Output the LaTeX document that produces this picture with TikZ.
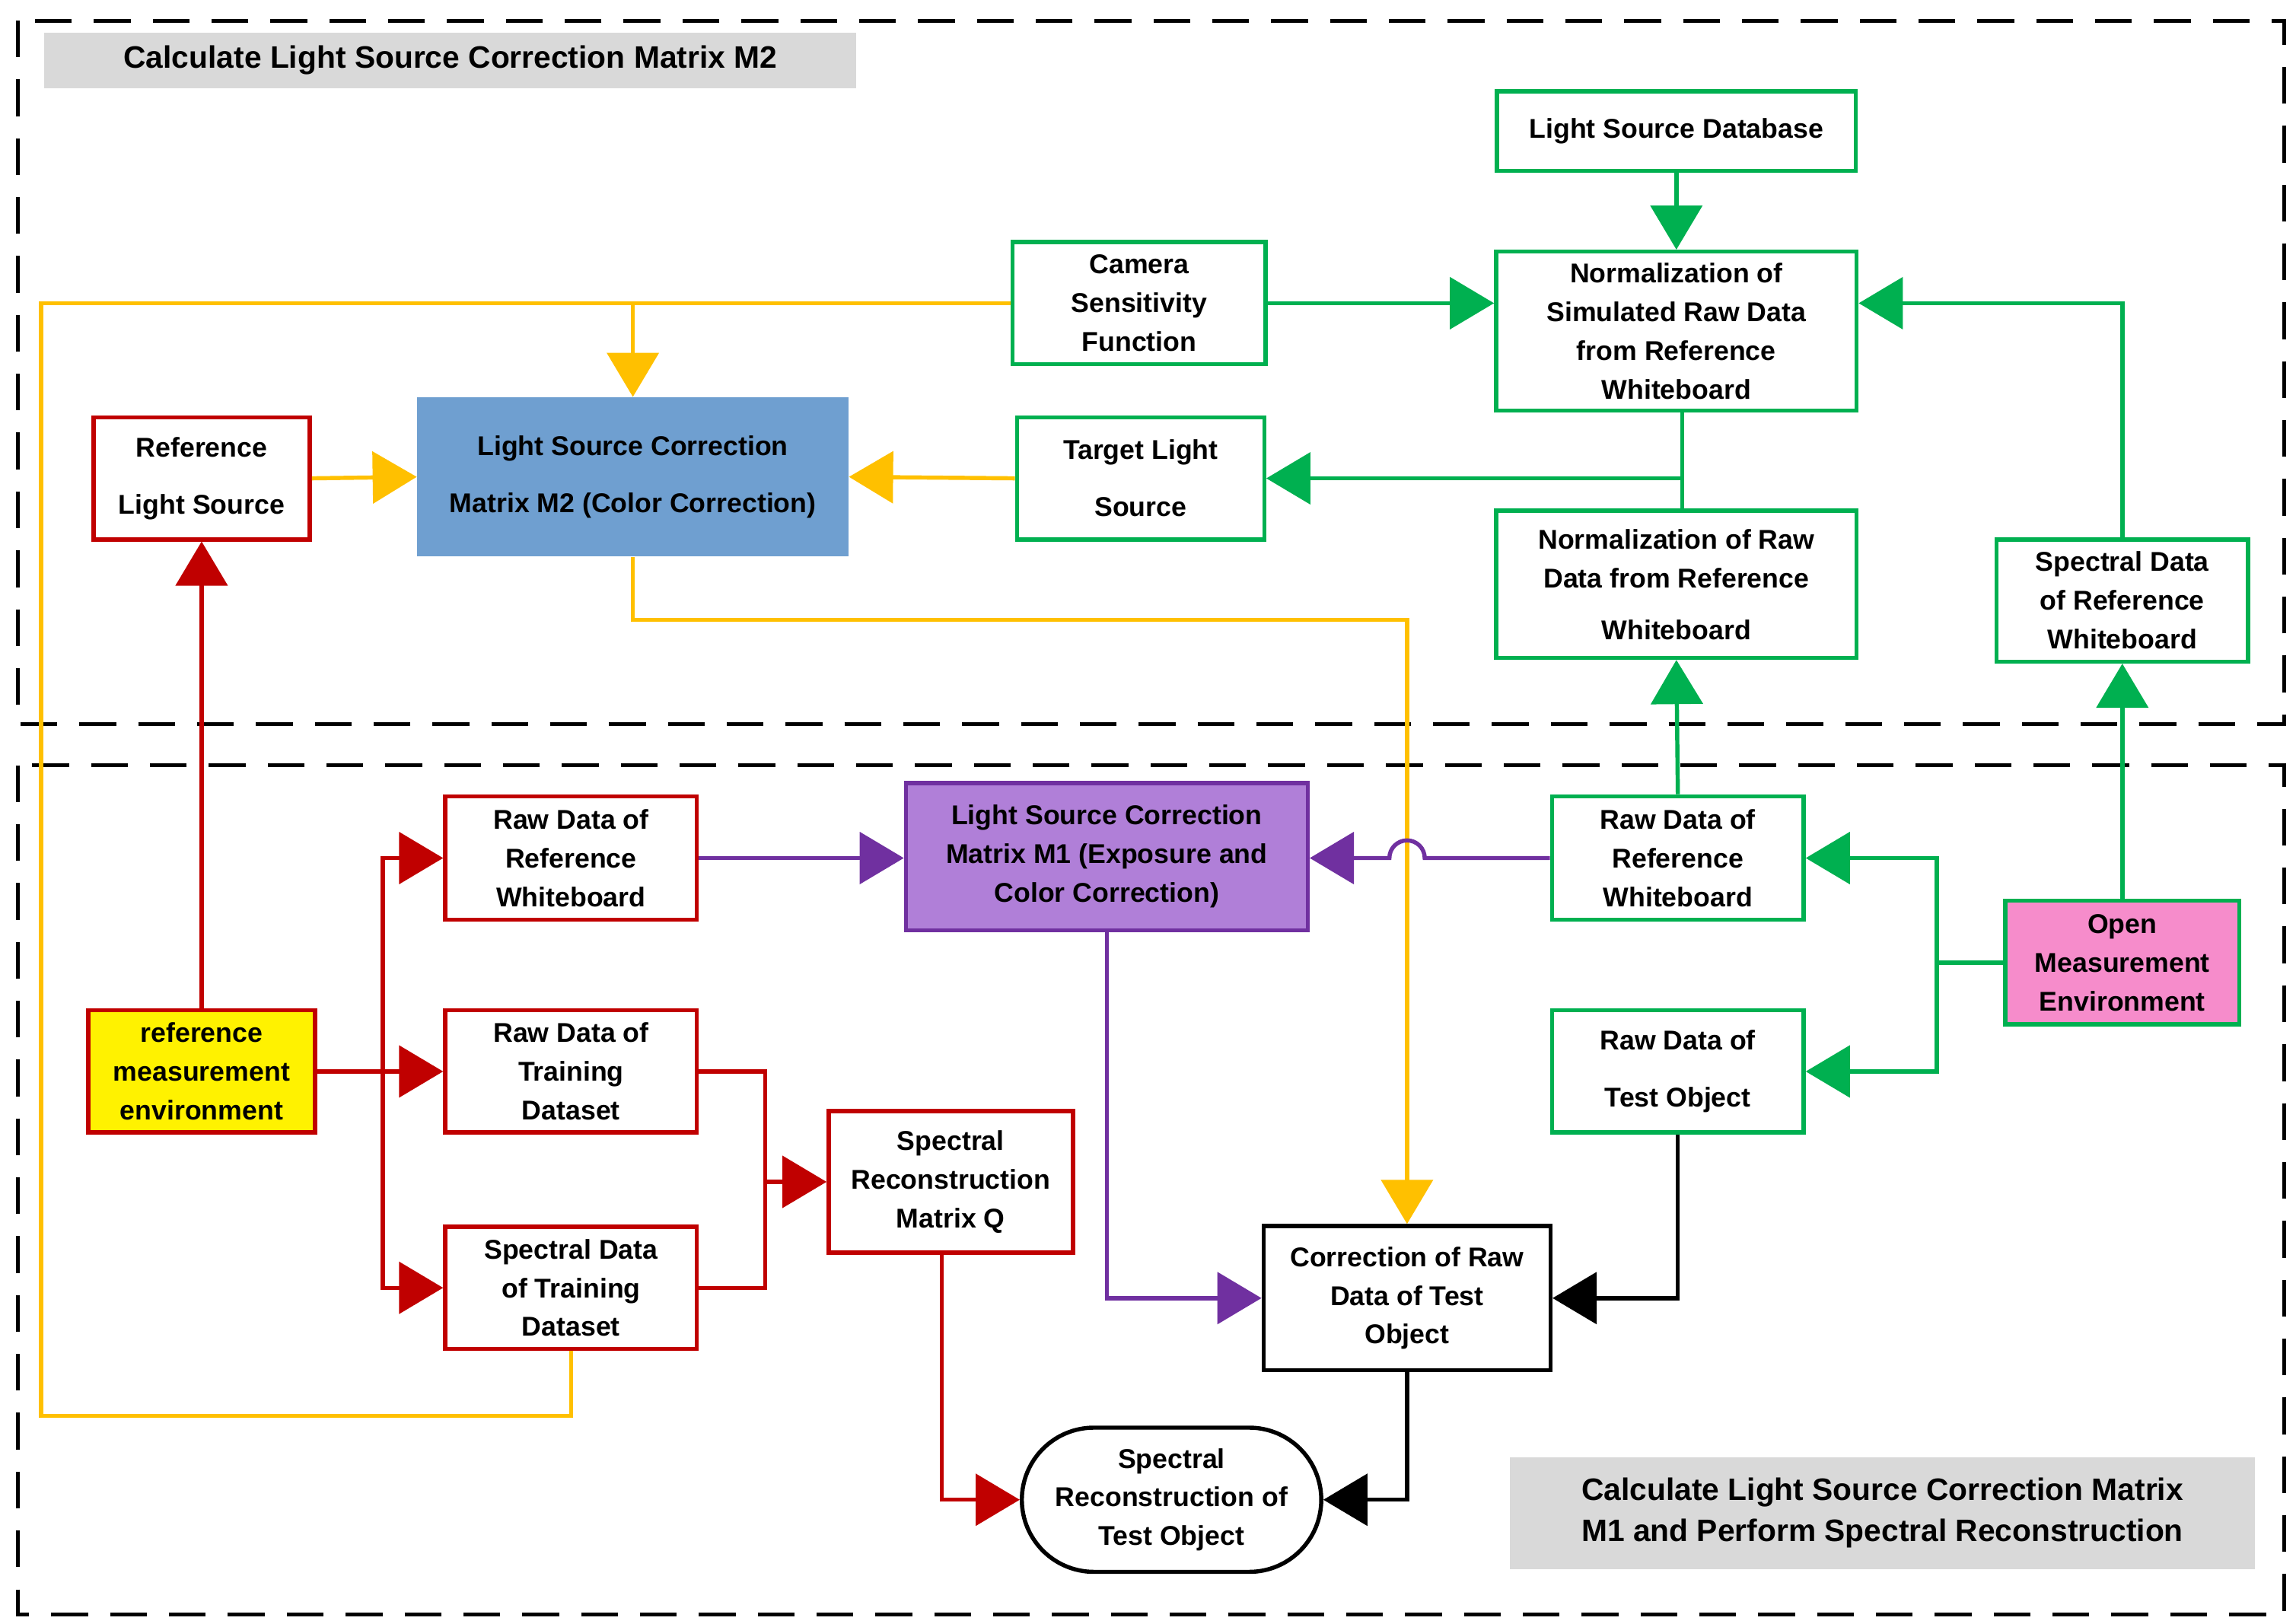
\documentclass[tikz,border=0pt]{standalone}
\usepackage{fontspec}
\setmainfont{Liberation Sans}
\usetikzlibrary{arrows.meta,shapes.misc}
\definecolor{gr}{HTML}{00B050}
\definecolor{rd}{HTML}{C00000}
\definecolor{yl}{HTML}{FFC000}
\definecolor{pu}{HTML}{7030A0}
\begin{document}
\begin{tikzpicture}[x=0.02cm,y=-0.02cm,
  font=\fontsize{10.5}{15}\selectfont\bfseries,
  box/.style={draw,line width=1.6pt,align=center,inner sep=1pt,minimum width=#1},
  g/.style={box=#1,draw=gr},
  r/.style={box=#1,draw=rd},
  ln/.style={line width=1.6pt},
  ar/.style={ln,-{Triangle[length=6mm,width=7mm]}},
]
\useasboundingbox (0,0) rectangle (1560,1103);
\draw[dashed,line width=1.5pt,dash pattern=on 5mm off 3mm] (12,14) rectangle (1552,492);
\draw[dashed,line width=1.5pt,dash pattern=on 5mm off 3mm] (12,520) rectangle (1552,1097);
\node[fill=black!15,minimum width=552*0.2mm,minimum height=38*0.2mm,font=\fontsize{12}{14}\selectfont\bfseries] (t1) at (306,41) {Calculate Light Source Correction Matrix M2};
\node[fill=black!15,minimum width=506*0.2mm,minimum height=76*0.2mm,align=center,font=\fontsize{12}{16}\selectfont\bfseries] (t2) at (1279,1028) {Calculate Light Source Correction Matrix\\M1 and Perform Spectral Reconstruction};

% green
\node[g=244*0.2mm,minimum height=54*0.2mm] (lsd) at (1139,89) {Light Source Database};
\node[g=245*0.2mm,minimum height=108*0.2mm] (ns) at (1139,225) {Normalization of\\Simulated Raw Data\\from Reference\\Whiteboard};
\node[g=172*0.2mm,minimum height=83*0.2mm] (cam) at (774,206) {Camera\\Sensitivity\\Function};
\node[g=168*0.2mm,minimum height=83*0.2mm] (tls) at (775,325) {Target Light\\[7pt]Source};
\node[g=245*0.2mm,minimum height=100*0.2mm] (nr) at (1139,397) {Normalization of Raw\\Data from Reference\\[5pt]Whiteboard};
\node[g=171*0.2mm,minimum height=83*0.2mm] (srw) at (1442,408) {Spectral Data\\of Reference\\Whiteboard};
\node[g=171*0.2mm,minimum height=84*0.2mm] (rwg) at (1140,583) {Raw Data of\\Reference\\Whiteboard};
\node[g=171*0.2mm,minimum height=83*0.2mm] (rto) at (1140,728) {Raw Data of\\[7pt]Test Object};
\node[g=159*0.2mm,minimum height=84*0.2mm,fill=magenta!45] (ome) at (1442,654) {Open\\Measurement\\Environment};
% red
\node[r=147*0.2mm,minimum height=83*0.2mm] (rls) at (137,325) {Reference\\[7pt]Light Source};
\node[r=154*0.2mm,minimum height=83*0.2mm,fill=yellow] (rme) at (137,728) {reference\\measurement\\environment};
\node[r=171*0.2mm,minimum height=84*0.2mm] (rwr) at (388,583) {Raw Data of\\Reference\\Whiteboard};
\node[r=171*0.2mm,minimum height=83*0.2mm] (rtd) at (388,728) {Raw Data of\\Training\\Dataset};
\node[r=171*0.2mm,minimum height=83*0.2mm] (std) at (388,875) {Spectral Data\\of Training\\Dataset};
\node[r=166*0.2mm,minimum height=96*0.2mm] (q) at (646,803) {Spectral\\Reconstruction\\Matrix Q};
% others
\node[fill={rgb,255:red,111;green,159;blue,208},minimum width=293*0.2mm,minimum height=108*0.2mm,align=center,inner sep=1pt] (m2) at (430,324) {Light Source Correction\\[7pt]Matrix M2 (Color Correction)};
\node[box=273*0.2mm,draw=pu,fill={rgb,255:red,176;green,127;blue,216},minimum height=100*0.2mm] (m1) at (752,582) {Light Source Correction\\Matrix M1 (Exposure and\\Color Correction)};
\node[box=195*0.2mm,draw=black,minimum height=98*0.2mm] (cor) at (956,882) {Correction of Raw\\Data of Test\\Object};
\node[box=207*0.2mm,draw=black,minimum height=98*0.2mm,rounded rectangle] (sr) at (796,1019) {Spectral\\Reconstruction of\\Test Object};

% yellow
\draw[ln,yl] (std.south) -- (388,962) -- (28,962) -- (28,206) -- (cam.west);
\draw[ar,yl] (430,206) -- (m2.north);
\draw[ar,yl] (rls.east) -- (m2.west);
\draw[ar,yl] (tls.west) -- (m2.east);
\draw[ar,yl] (m2.south) -- (430,421) -- (956,421) -- (cor.north);
% green
\draw[ar,gr] (lsd.south) -- (ns.north);
\draw[ar,gr] (cam.east) -- (ns.west |- cam.east);
\draw[ar,gr] (srw.north) -- (1442,206) -- (ns.east |- 0,206);
\draw[ln,gr] (1143,279) -- (1143,347);
\draw[ar,gr] (1143,325) -- (tls.east);
\draw[ar,gr] (rwg.north) -- (nr.south);
\draw[ar,gr] (ome.north) -- (srw.south);
\draw[ln,gr] (ome.west) -- (1316,654);
\draw[ar,gr] (1316,583) -- (1316,728) -- (rto.east);
\draw[ar,gr] (1316,654) -- (1316,583) -- (rwg.east);
% purple
\draw[ar,pu] (rwr.east) -- (m1.west |- rwr.east);
\draw[ar,pu] (rwg.west) -- (968,583) arc[start angle=0,end angle=180,radius=0.24cm] -- (m1.east |- rwg.west);
\draw[ar,pu] (m1.south) -- (752,882) -- (cor.west);
% black
\draw[ar] (rto.south) -- (1140,882) -- (cor.east);
\draw[ar] (cor.south) -- (956,1019) -- (sr.east);
% red
\draw[ar,rd] (rme.north) -- (rls.south);
\draw[ar,rd] (rme.east) -- (rtd.west);
\draw[ar,rd] (260,728) -- (260,583) -- (rwr.west);
\draw[ar,rd] (260,728) -- (260,875) -- (std.west);
\draw[ln,rd] (rtd.east) -- (520,728) -- (520,875) -- (std.east);
\draw[ar,rd] (520,803) -- (q.west);
\draw[ar,rd] (640,851) -- (640,1019) -- (sr.west);
\end{tikzpicture}
\end{document}
